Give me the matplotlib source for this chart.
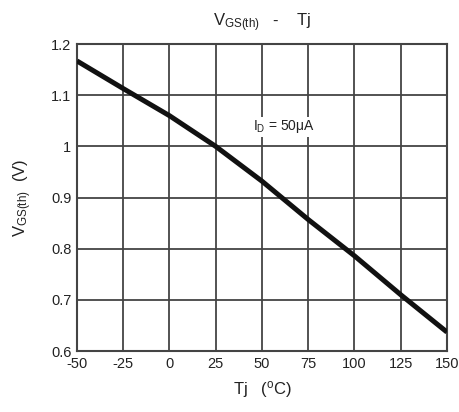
import matplotlib
matplotlib.use("Agg")
import matplotlib.pyplot as plt

# Vgs(th) vs junction temperature, Id = 50uA
temp_c = [-50, -25, 0, 25, 50, 75, 100, 125, 150]
vgs_th = [1.167, 1.113, 1.06, 1.0, 0.932, 0.857, 0.786, 0.71, 0.637]

x_ticks = [-50, -25, 0, 25, 50, 75, 100, 125, 150]
y_ticks = [0.6, 0.7, 0.8, 0.9, 1.0, 1.1, 1.2]
y_tick_labels = ["0.6", "0.7", "0.8", "0.9", "1", "1.1", "1.2"]

plt.rcParams['font.family'] = ['Liberation Sans', 'DejaVu Sans']
plt.rcParams['mathtext.fontset'] = 'custom'
plt.rcParams['mathtext.rm'] = 'Liberation Sans'
plt.rcParams['mathtext.it'] = 'Liberation Sans'
plt.rcParams['axes.unicode_minus'] = False

fig = plt.figure(figsize=(4.6, 4.12), dpi=100)
ax = fig.add_axes([0.1674, 0.148, 0.8043, 0.745])

ax.plot(temp_c, vgs_th, color='#111111', linewidth=3.6, solid_capstyle='butt', zorder=3)

ax.set_xlim(-50, 150)
ax.set_ylim(0.6, 1.2)
ax.set_xticks(x_ticks)
ax.set_xticklabels([str(t) for t in x_ticks])
ax.set_yticks(y_ticks)
ax.set_yticklabels(y_tick_labels)
ax.tick_params(length=0, labelsize=10.5, labelcolor='#222222', pad=4)
ax.grid(True, color='#444444', linewidth=1.3)
for s in ax.spines.values():
    s.set_color('#444444')
    s.set_linewidth(1.5)

ax.set_xlabel(r'Tj   ($\mathregular{^o}$C)', fontsize=12, color='#222222', labelpad=6)
ax.set_ylabel(r'$\mathregular{V_{GS(th)}}$  (V)', fontsize=12, color='#222222', labelpad=12)
fig.text(0.57, 0.945, r'$\mathregular{V_{GS(th)}}$   -    Tj', ha='center', va='center',
         fontsize=12, color='#222222')

ax.text(62, 1.038, r'$\mathregular{I_D}$ = 50μA', fontsize=10, color='#222222',
        ha='center', va='center',
        bbox=dict(fc='white', ec='none', pad=1))

fig.savefig("out.png", dpi=100)
